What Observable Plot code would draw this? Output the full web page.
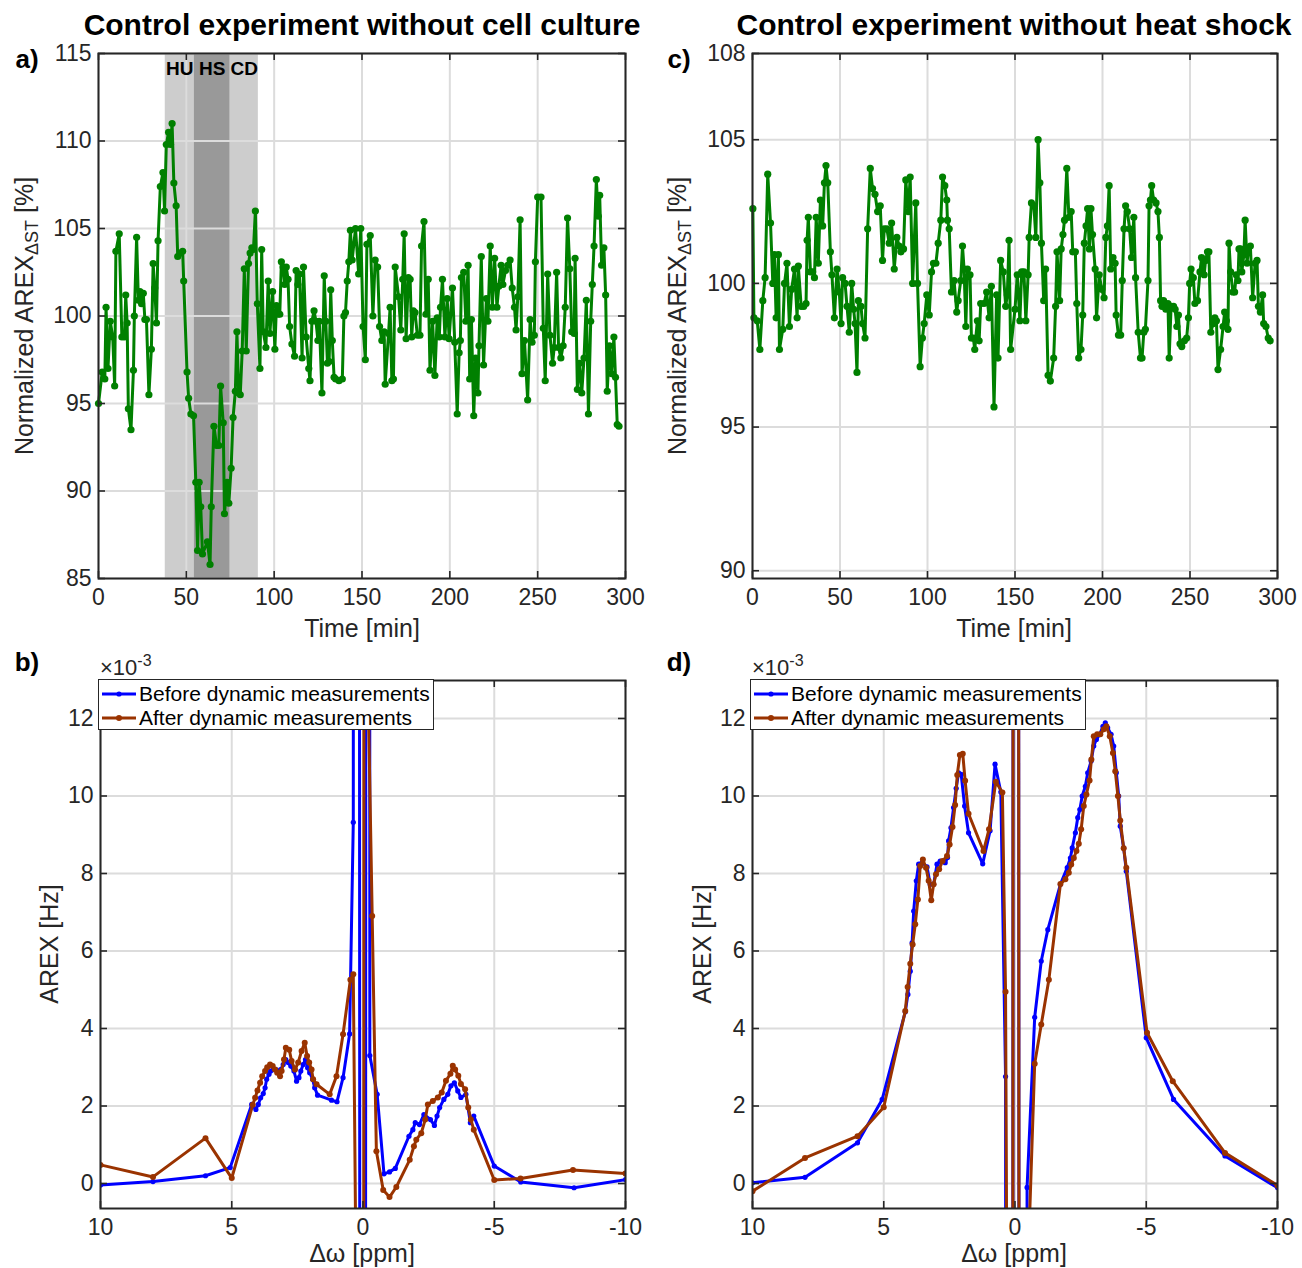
<!DOCTYPE html>
<html><head><meta charset="utf-8">
<script src="https://cdn.jsdelivr.net/npm/d3@7"></script>
<script src="https://cdn.jsdelivr.net/npm/@observablehq/plot@0.6"></script>
<style>
body{margin:0;background:#fff;}
#root{position:relative;width:1302px;height:1268px;background:#fff;font-family:'Liberation Sans',Arial,sans-serif;color:#000;overflow:hidden;}
.abs{position:absolute;white-space:nowrap;}
.c{transform:translate(-50%,-50%);}
.rot{transform:translate(-50%,-50%) rotate(-90deg);}
.panel{position:absolute;}
.legend{position:absolute;background:#fff;border:1.5px solid #262626;box-sizing:border-box;z-index:5;font-size:21px;color:#000;}
.legend .row{position:absolute;left:2px;height:24px;display:flex;align-items:center;}
</style></head>
<body><div id="root"></div>
<script>
// ---------- DATA ----------
const titles = ["Control experiment without cell culture", "Control experiment without heat shock"];
const timeTicks = [0, 50, 100, 150, 200, 250, 300];
const aYTicks = [85, 90, 95, 100, 105, 110, 115];
const cYTicks = [90, 95, 100, 105];
const cYTop = 108;
const ppmTicks = [10, 5, 0, -5, -10];
const arexTicks = [0, 2, 4, 6, 8, 10, 12];
const seriesNames = ["Before dynamic measurements", "After dynamic measurements"];
const phaseLabels = ["HU", "HS", "CD"];
const phaseStart = [38, 54.5, 75];
const phaseEnd = [54.5, 75, 91];

// panel a: time [min], normalized AREX [%]
const aTime = [0,2.1,3.6,4.3,5.4,6.7,8.1,9.2,9.9,11.8,13.3,14.8,15.5,16.3,17.0,18.5,19.9,20.4,21.7,22.7,23.6,24.5,25.5,26.4,27.3,28.7,30.1,31.1,32.0,33.0,33.9,35.2,36.7,37.6,38.6,39.9,41.0,41.9,42.9,44.2,45.1,46.6,47.9,48.5,50.4,51.3,52.6,54.1,55.4,56.4,57.3,58.2,59.2,62.0,63.5,64.2,65.7,67.2,68.5,69.5,71.0,71.7,73.2,74.2,75.5,76.6,77.9,78.8,79.8,80.7,81.8,83.0,84.1,85.4,86.3,87.3,88.2,89.3,90.4,91.9,92.9,93.8,95.3,96.6,97.6,99.1,100.4,101.3,102.2,103.2,104.1,105.1,106.0,106.9,107.9,108.8,110.1,111.6,112.5,113.5,114.4,115.9,116.7,118.2,119.7,120.4,121.5,122.7,123.8,124.9,125.7,127.2,128.5,129.4,130.3,131.3,132.2,133.1,134.1,135.0,136.9,138.8,139.7,140.6,141.6,142.5,143.4,144.4,146.3,148.1,149.3,150.6,151.9,152.8,154.7,156.2,157.5,158.9,160.0,161.3,162.6,163.2,165.1,166.0,167.0,167.9,168.9,170.8,172.1,173.2,174.0,175.1,176.4,177.4,178.3,179.2,180.2,181.5,183.0,183.9,185.3,186.4,187.7,188.7,190.2,191.5,192.8,194.0,194.7,195.8,197.2,198.5,199.6,201.5,202.8,204.2,205.3,206.0,206.6,207.9,209.1,210.4,211.3,212.3,213.6,214.7,216.0,216.6,217.9,219.2,220.8,221.7,223.0,224.2,225.5,226.8,227.9,229.2,230.2,231.7,233.0,234.3,235.5,236.8,237.7,238.7,240.0,241.1,242.5,244.3,245.7,246.8,248.1,248.7,250.0,251.9,253.2,254.3,255.7,257.0,258.5,259.4,260.8,261.9,263.2,264.5,265.7,267.0,268.3,269.4,270.8,271.3,272.6,273.9,275.1,276.4,277.7,278.9,280.2,281.1,282.1,283.4,284.5,285.3,286.4,287.7,288.7,289.6,290.9,292.1,293.4,294.3,295.3,296.3];
const aValue = [95.0,96.8,96.4,100.5,97.0,99.7,98.8,96.0,103.7,104.7,98.8,98.8,101.2,99.6,94.7,93.5,96.9,100.0,104.5,100.9,101.4,100.7,101.3,99.8,99.8,95.5,98.1,103.0,101.6,99.6,104.3,107.4,108.2,106.0,109.8,110.5,109.8,111.0,107.6,106.3,103.4,103.6,103.7,102.0,96.8,95.3,94.4,94.3,90.5,86.6,90.5,89.1,86.4,87.1,85.8,89.1,93.7,92.6,92.6,96.0,93.9,88.7,90.5,89.3,91.3,94.2,95.7,99.1,95.6,95.5,98.0,102.7,98.0,103.0,103.6,103.9,103.8,106.0,100.7,97.0,103.8,99.1,98.2,102.0,99.0,101.4,98.1,100.6,100.1,100.1,103.1,102.8,101.8,102.8,102.1,99.4,98.4,97.7,102.6,101.8,102.4,97.6,102.8,98.8,97.0,96.3,99.7,100.3,99.7,98.6,99.7,95.6,102.3,99.7,97.3,97.4,101.5,98.6,96.5,96.4,96.3,96.4,100.0,100.2,102.0,103.1,104.9,103.2,105.0,102.4,105.0,99.4,97.5,104.1,104.6,100.0,103.2,102.8,99.4,98.6,99.1,96.1,99.0,100.5,96.3,96.4,102.8,101.1,99.2,102.1,104.7,98.7,102.2,102.1,98.8,100.3,100.2,98.9,98.9,104.0,105.4,100.1,102.1,96.9,99.7,96.6,99.9,98.8,100.5,102.1,98.8,101.0,98.7,101.6,98.5,94.4,97.9,98.6,102.2,102.5,99.7,102.9,96.4,99.8,94.3,97.6,95.6,98.3,103.4,97.2,101.0,99.7,104.0,100.5,103.3,100.5,101.7,102.9,101.8,102.6,102.9,103.2,101.6,100.5,99.2,101.1,105.5,96.7,98.6,95.2,99.8,98.5,98.9,103.1,106.8,106.8,99.3,96.3,102.4,98.9,97.3,98.2,102.5,98.2,97.6,98.3,100.5,105.6,102.7,99.1,99.0,103.3,95.8,97.3,95.6,97.6,100.9,94.4,99.7,101.8,104.0,107.8,105.7,106.9,102.9,103.9,101.2,95.7,98.3,96.7,98.8,96.5,93.8,93.7];

// panel c: time [min], normalized AREX [%]
const cTime = [0.2,0.8,2.7,4.2,5.9,7.2,8.7,10.3,11.6,12.5,13.5,14.8,15.4,17.3,18.3,19.7,21.1,22.4,24.0,25.5,26.2,27.8,29.3,30.6,31.2,31.9,33.1,34.4,35.4,36.4,37.6,38.8,40.1,41.1,42.0,43.0,44.5,45.4,46.8,48.3,49.6,50.6,51.5,52.9,54.0,55.3,56.7,57.8,58.6,59.7,60.5,62.0,62.9,64.3,65.8,67.3,68.6,70.0,71.5,73.0,74.3,75.3,76.8,78.1,79.5,81.0,82.5,83.8,84.8,86.3,87.6,89.0,90.1,91.5,93.3,94.3,95.8,97.1,98.1,99.6,101.0,102.3,103.4,104.8,106.1,107.6,108.6,109.9,111.0,111.4,112.4,113.7,115.2,116.7,117.5,119.0,120.0,120.9,121.9,122.8,124.3,125.1,126.2,127.0,128.5,129.5,130.4,132.3,133.8,135.2,136.5,138.0,139.5,140.3,141.8,143.3,144.7,145.6,146.6,147.5,150.0,151.3,152.8,153.8,155.1,156.2,157.5,158.1,159.4,160.8,161.9,163.2,164.2,165.1,166.4,167.5,168.9,170.2,172.1,173.2,174.0,175.5,176.4,177.4,178.3,179.6,180.8,182.1,183.0,184.5,185.3,186.4,187.7,188.7,189.6,190.6,191.5,192.5,193.4,194.3,195.8,196.6,198.1,199.6,200.9,201.9,202.8,203.8,204.7,206.0,207.2,207.8,209.1,210.4,211.3,212.3,213.2,214.2,215.5,216.6,217.9,218.9,220.4,221.7,222.6,223.6,224.5,226.0,226.6,227.4,228.1,229.2,230.6,231.7,232.5,233.2,234.0,234.9,236.2,237.4,238.1,239.2,240.6,241.5,242.5,243.4,244.3,245.3,246.8,248.1,249.1,249.8,250.6,251.9,252.8,254.3,255.7,256.6,258.1,258.9,260.0,260.8,261.9,263.2,264.2,265.1,266.0,267.5,268.9,269.8,270.8,271.7,272.3,273.2,274.5,275.5,276.4,277.4,278.0,278.9,279.6,280.8,281.5,282.6,283.4,284.5,285.8,287.2,288.3,289.1,290.2,291.5,292.1,293.4,294.7,295.8];
const cValue = [102.6,98.8,98.7,97.7,99.4,100.2,103.8,102.1,100.0,101.0,98.8,101.0,97.7,98.4,100.0,100.7,98.5,99.8,100.5,98.8,100.6,99.2,99.2,99.3,101.5,102.3,100.4,100.4,100.2,102.3,100.7,102.9,102.0,103.5,104.1,103.5,101.1,100.3,98.8,100.5,99.7,98.6,100.2,100.0,99.2,98.3,100.0,99.1,98.6,96.9,99.4,99.2,98.6,98.1,101.9,104.0,103.3,103.1,102.5,102.7,100.8,101.9,101.9,101.4,102.1,100.5,101.6,101.3,101.1,101.2,103.6,102.5,103.7,100.0,102.8,100.0,97.1,98.1,98.6,99.6,98.9,100.4,100.7,100.7,101.4,102.2,103.7,103.4,102.9,102.2,101.9,99.7,100.1,99.0,99.4,100.1,101.3,100.5,98.5,100.5,100.3,98.1,98.1,97.7,98.7,98.0,99.3,99.3,99.7,98.8,99.9,95.7,99.6,97.4,100.8,100.4,99.2,99.6,101.5,97.7,99.1,100.3,98.7,100.4,100.4,98.7,100.3,101.6,102.8,102.7,101.6,105.0,103.5,101.4,99.4,100.5,96.8,96.6,97.4,99.2,101.1,99.4,101.2,101.7,102.2,104.0,102.3,102.5,101.1,101.1,99.3,97.4,97.7,98.9,101.4,102.0,102.6,101.2,102.6,101.7,100.5,98.8,100.3,99.8,99.5,101.6,102.0,103.4,100.5,100.9,100.7,98.9,98.2,98.2,100.1,101.9,102.7,102.5,101.9,100.9,102.3,100.2,98.3,97.4,97.4,98.3,98.4,100.1,102.7,102.9,103.4,102.9,102.8,102.5,101.6,99.4,99.2,99.4,99.1,99.3,97.4,99.2,99.2,99.1,98.5,98.9,97.9,97.8,98.0,98.1,98.8,100.0,100.5,100.2,99.3,99.4,100.4,100.9,100.3,100.8,101.1,101.1,98.3,98.6,98.8,98.7,97.0,97.7,98.5,99.0,98.7,98.4,101.4,100.4,99.7,99.7,100.3,100.1,101.2,101.2,100.4,101.0,102.2,100.7,101.2,101.3,99.5,100.7,100.8,99.2,99.0,99.6,98.6,98.5,98.1,98.0];

// panel b: offset [ppm], AREX [x1e-3 Hz]
const bBeforePpm = [10,8,6,5.06,4.24,4.08,3.99,3.9,3.8,3.73,3.67,3.58,3.52,3.42,3.32,3.23,3.14,3.04,2.94,2.85,2.75,2.63,2.53,2.44,2.37,2.28,2.19,2.11,2.03,1.92,1.84,1.73,1.2,0.99,0.76,0.51,0.37,0.25,0,-0.2,-0.26,-0.54,-0.8,-1.01,-1.23,-1.75,-1.9,-1.99,-2.15,-2.32,-2.57,-2.72,-2.82,-2.92,-3.08,-3.23,-3.35,-3.48,-3.61,-3.73,-3.92,-4.09,-4.22,-5,-6.01,-8.04,-10];
const bBeforeVal = [-0.04,0.05,0.2,0.41,2.04,1.91,2.04,2.21,2.32,2.47,2.69,2.82,2.9,2.94,2.94,2.86,2.94,3.07,3.2,3.12,3.03,2.9,2.64,2.73,2.9,3.07,3.2,2.99,2.86,2.69,2.47,2.28,2.15,2.11,2.73,3.86,9.32,200,-200,200,3.3,2.3,0.25,0.3,0.39,1.22,1.39,1.57,1.52,1.78,1.65,1.5,1.74,1.96,2.17,2.3,2.52,2.6,2.39,2.22,2.3,1.57,1.74,0.45,0.04,-0.11,0.1];
const bAfterPpm = [10,8,6,5,4.2,4.11,4.02,3.92,3.84,3.73,3.65,3.54,3.44,3.35,3.27,3.16,3.1,3.01,2.94,2.81,2.72,2.59,2.47,2.34,2.22,2.13,2.05,1.96,1.9,1.77,1.27,1.01,0.76,0.48,0.37,0.27,0.05,-0.11,-0.16,-0.35,-0.51,-0.77,-1.01,-1.27,-1.78,-1.94,-2.03,-2.22,-2.37,-2.47,-2.66,-2.85,-3.0,-3.16,-3.33,-3.42,-3.51,-3.63,-3.73,-3.89,-4.01,-4.11,-4.22,-5,-6,-8,-10];
const bAfterVal = [0.48,0.17,1.17,0.14,2.03,2.21,2.4,2.6,2.77,2.9,3.0,3.07,3.03,2.94,2.86,2.77,2.9,3.2,3.5,3.45,3.16,2.94,3.12,3.42,3.63,3.29,3.12,2.94,2.69,2.56,2.3,2.77,3.85,5.26,5.4,-2.0,-200,200,14,6.9,0.83,-0.17,-0.35,-0.09,0.61,0.96,1.13,1.3,1.65,2.04,2.13,2.22,2.35,2.65,2.83,3.04,2.94,2.78,2.57,2.43,1.96,1.65,1.39,0.09,0.13,0.35,0.26];

// panel d: offset [ppm], AREX [x1e-3 Hz]
const dBeforePpm = [10,8,6,5.06,4.18,4.08,3.99,3.92,3.86,3.76,3.67,3.54,3.35,3.23,3.1,2.97,2.85,2.66,2.57,2.53,2.44,2.34,2.24,2.15,2.05,1.92,1.77,1.23,0.95,0.76,0.54,0.36,0.16,0,-0.3,-0.46,-0.75,-1.0,-1.25,-1.73,-1.99,-2.11,-2.18,-2.3,-2.39,-2.47,-2.56,-2.68,-2.77,-2.9,-3.0,-3.1,-3.23,-3.35,-3.44,-3.53,-3.66,-3.76,-3.86,-3.95,-4.01,-4.14,-4.24,-5,-6.04,-8,-10];
const dBeforeVal = [0.02,0.16,1.05,2.17,4.43,4.88,5.48,6.21,7.03,7.81,8.24,8.28,8.17,7.72,7.72,8.24,8.32,8.28,8.41,8.84,9.18,9.7,10.2,10.6,10.56,9.74,9.05,8.25,9.1,10.82,10.1,2.76,-200,200,-200,-0.1,4.29,5.74,6.55,7.72,8.15,8.4,8.66,9.05,9.44,9.65,10.0,10.25,10.6,10.9,11.29,11.46,11.59,11.8,11.89,11.76,11.59,11.29,10.6,10.0,9.22,8.66,8.06,3.76,2.17,0.71,-0.11];
const dAfterPpm = [10,8,6,5,4.18,4.09,3.99,3.9,3.8,3.7,3.61,3.51,3.39,3.29,3.19,3.1,3.01,2.89,2.76,2.59,2.49,2.38,2.28,2.2,2.1,1.99,1.9,1.77,1.2,0.99,0.73,0.48,0.36,0.25,0.16,0,-0.3,-0.5,-0.75,-1.0,-1.29,-1.73,-1.92,-2.05,-2.14,-2.24,-2.34,-2.43,-2.52,-2.62,-2.72,-2.84,-2.91,-3.0,-3.13,-3.25,-3.38,-3.48,-3.61,-3.73,-3.82,-3.92,-4.01,-4.14,-4.24,-5.03,-6.01,-8,-10];
const dAfterVal = [-0.2,0.66,1.22,1.97,4.45,5.07,5.67,6.17,6.69,7.33,8.19,8.36,8.15,7.81,7.31,7.72,7.98,8.11,8.32,8.45,8.75,9.2,9.77,10.54,11.06,11.09,10.39,9.54,8.58,9.14,10.37,10.09,4.95,-12,-200,200,-200,-2,3.09,4.1,5.26,7.73,7.85,8.02,8.23,8.4,8.58,8.77,9.14,9.74,10.04,10.4,10.94,11.54,11.59,11.59,11.72,11.8,11.54,11.11,10.64,10.0,9.37,8.65,8.15,3.89,2.64,0.79,-0.05];

// ---------- STYLE ----------
const FONT = "'Liberation Sans', Arial, sans-serif";
const INK = "#262626";
const GRID = "#dcdcdc";
const GREEN = "#008000";
const BLUE = "#0000ff";
const BROWN = "#9a3300";
const TICK = 23;

const root = document.getElementById("root");
function addText(html, x, y, cls, style) {
  const d = document.createElement("div");
  d.className = "abs " + cls;
  d.style.left = x + "px"; d.style.top = y + "px";
  Object.assign(d.style, style || {});
  d.innerHTML = html;
  root.appendChild(d);
  return d;
}

// inward tick marks on all four sides, from the scale domains
function boxTicks(xTicks, yTicks, xd, yd, w, h) {
  const len = 7;
  const dx = (xd[1] - xd[0]) * len / w;
  const dy = (yd[1] - yd[0]) * len / h;
  const o = {stroke: INK, strokeWidth: 1.6};
  return [
    Plot.ruleX(xTicks, {x: d => d, y1: () => yd[0], y2: () => yd[0] + dy, ...o}),
    Plot.ruleX(xTicks, {x: d => d, y1: () => yd[1] - dy, y2: () => yd[1], ...o}),
    Plot.ruleY(yTicks, {y: d => d, x1: () => xd[0], x2: () => xd[0] + dx, ...o}),
    Plot.ruleY(yTicks, {y: d => d, x1: () => xd[1] - dx, x2: () => xd[1], ...o})
  ];
}

function basePlot({left, top, width, height, ml, mr, mt, mb, xd, yd, xTicks, yTicks, marks}) {
  const w = width - ml - mr, h = height - mt - mb;
  const p = Plot.plot({
    width, height, marginLeft: ml, marginRight: mr, marginTop: mt, marginBottom: mb,
    style: {fontFamily: FONT, fontSize: TICK + "px", color: INK, background: "transparent", overflow: "visible"},
    x: {domain: xd}, y: {domain: yd},
    color: {type: "identity"},
    marks: [
      ...marks.before,
      Plot.gridX(xTicks, {stroke: GRID, strokeOpacity: 1, strokeWidth: 2}),
      Plot.gridY(yTicks, {stroke: GRID, strokeOpacity: 1, strokeWidth: 2}),
      ...marks.data,
      Plot.frame({stroke: INK, strokeWidth: 2}),
      ...boxTicks(xTicks, yTicks, xd, yd, w, h),
      Plot.axisX(xTicks, {anchor: "bottom", tickSize: 0, tickPadding: 10, label: null, fontSize: TICK, fill: INK, tickFormat: d => String(d)}),
      Plot.axisY(yTicks, {anchor: "left", tickSize: 0, tickPadding: 7, label: null, fontSize: TICK, fill: INK, tickFormat: d => String(d)})
    ]
  });
  p.classList.add("panel");
  p.style.left = left + "px"; p.style.top = top + "px";
  root.appendChild(p);
}

// ---------- PANEL a ----------
const aData = aTime.map((t, i) => ({t, v: aValue[i]}));
const phases = phaseLabels.map((l, i) => ({label: l, s: phaseStart[i], e: phaseEnd[i], fill: l === "HS" ? "#999999" : "#cdcdcd"}));
const aYd = [aYTicks[0], aYTicks[aYTicks.length - 1]];
basePlot({
  left: 0, top: 0, width: 650, height: 650, ml: 98, mr: 25, mt: 53, mb: 72,
  xd: [0, 300], yd: aYd, xTicks: timeTicks, yTicks: aYTicks,
  marks: {
    before: [Plot.rect(phases, {x1: "s", x2: "e", y1: () => aYd[0], y2: () => aYd[1], fill: "fill"})],
    data: [
      Plot.line(aData, {x: "t", y: "v", stroke: GREEN, strokeWidth: 3}),
      Plot.dot(aData, {x: "t", y: "v", r: 3.6, fill: GREEN, stroke: "none"}),
      Plot.text(phases, {x: d => (d.s + d.e) / 2, y: () => 114.1, text: "label", fontWeight: "bold", fontSize: 19, fill: "#000"})
    ]
  }
});

// ---------- PANEL c ----------
const cData = cTime.map((t, i) => ({t, v: cValue[i]}));
basePlot({
  left: 652, top: 0, width: 650, height: 650, ml: 100, mr: 25, mt: 53, mb: 72,
  xd: [0, 300], yd: [89.73, cYTop], xTicks: timeTicks, yTicks: [...cYTicks, cYTop],
  marks: {
    before: [],
    data: [
      Plot.line(cData, {x: "t", y: "v", stroke: GREEN, strokeWidth: 3}),
      Plot.dot(cData, {x: "t", y: "v", r: 3.6, fill: GREEN, stroke: "none"})
    ]
  }
});

// ---------- PANELS b, d ----------
function zMarks(bp, bv, ap, av) {
  const b = bp.map((p, i) => ({p, v: bv[i]}));
  const a = ap.map((p, i) => ({p, v: av[i]}));
  return [
    Plot.line(b, {x: "p", y: "v", stroke: BLUE, strokeWidth: 3, clip: true}),
    Plot.dot(b, {x: "p", y: "v", r: 2.6, fill: BLUE, stroke: "none", clip: true}),
    Plot.line(a, {x: "p", y: "v", stroke: BROWN, strokeWidth: 3, clip: true}),
    Plot.dot(a, {x: "p", y: "v", r: 3, fill: BROWN, stroke: "none", clip: true})
  ];
}
const zYd = [-0.645, 12.98];
basePlot({
  left: 0, top: 650, width: 650, height: 618, ml: 100, mr: 25, mt: 30, mb: 60,
  xd: [10, -10], yd: zYd, xTicks: ppmTicks, yTicks: arexTicks,
  marks: {before: [], data: zMarks(bBeforePpm, bBeforeVal, bAfterPpm, bAfterVal)}
});
basePlot({
  left: 652, top: 650, width: 650, height: 618, ml: 100, mr: 25, mt: 30, mb: 60,
  xd: [10, -10], yd: zYd, xTicks: ppmTicks, yTicks: arexTicks,
  marks: {before: [], data: zMarks(dBeforePpm, dBeforeVal, dAfterPpm, dAfterVal)}
});

// ---------- TEXT ----------
const titleStyle = {fontSize: "30px", fontWeight: "bold", color: "#000"};
addText(titles[0], 362, 25, "c", titleStyle);
addText(titles[1], 1014, 25, "c", titleStyle);
const lab = {fontSize: "26px", fontWeight: "bold", color: "#000"};
addText("a)", 27, 59, "c", lab);
addText("b)", 27, 662, "c", lab);
addText("c)", 679, 59, "c", lab);
addText("d)", 679, 662, "c", lab);
const axl = {fontSize: "25px", color: INK};
addText("Time [min]", 362, 628, "c", axl);
addText("Time [min]", 1014, 628, "c", axl);
addText("Δω [ppm]", 362, 1253, "c", axl);
addText("Δω [ppm]", 1014, 1253, "c", axl);
const ylab = 'Normalized AREX<sub style="font-size:18px;vertical-align:-5px">ΔST</sub> [%]';
addText(ylab, 26, 316, "rot", axl);
addText(ylab, 679, 316, "rot", axl);
addText("AREX [Hz]", 49, 944, "rot", axl);
addText("AREX [Hz]", 702, 944, "rot", axl);
const mult = '×10<sup style="font-size:16px;vertical-align:9px">-3</sup>';
addText(mult, 100, 652, "", {fontSize: "22px", color: INK});
addText(mult, 752, 652, "", {fontSize: "22px", color: INK});

function legend(x, y) {
  const L = document.createElement("div");
  L.className = "legend";
  Object.assign(L.style, {left: x + "px", top: y + "px", width: "336px", height: "51px"});
  [[BLUE, 2.6], [BROWN, 3]].forEach(([col, r], i) => {
    const row = document.createElement("div");
    row.className = "row";
    row.style.top = (2 + i * 24) + "px";
    row.innerHTML = `<svg width="36" height="24" style="margin-right:2px"><line x1="1" x2="35" y1="12" y2="12" stroke="${col}" stroke-width="3"/><circle cx="18" cy="12" r="${r}" fill="${col}"/></svg><span>${seriesNames[i]}</span>`;
    L.appendChild(row);
  });
  root.appendChild(L);
}
legend(98, 679);
legend(750, 679);
</script>
</body></html>
